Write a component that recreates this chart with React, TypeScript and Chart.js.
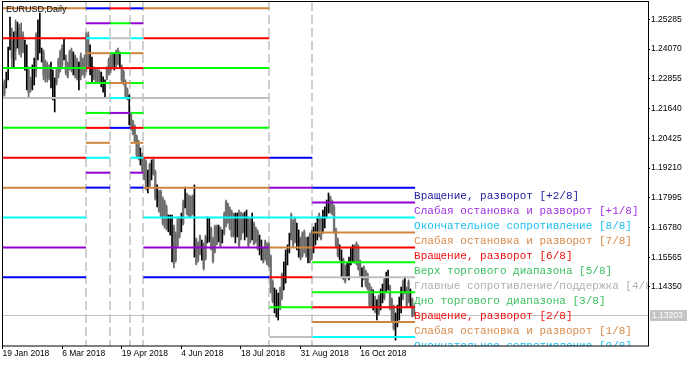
import React, { useEffect, useRef } from 'react';
import { Chart, registerables } from 'chart.js';

Chart.register(...registerables);

// ---- Daily EURUSD bars (index 0 = 19 Jan 2018) ----
const opens = [
  1.2250, 1.2270, 1.2255, 1.2295, 1.2410, 1.2440, 1.2370, 1.2480, 1.2420, 1.2495,
  1.2470, 1.2460, 1.2335, 1.2260, 1.2320, 1.2280, 1.2250, 1.2280, 1.2460, 1.2380,
  1.2400, 1.2360, 1.2395, 1.2350, 1.2340, 1.2330, 1.2260, 1.2215, 1.2165, 1.2320,
  1.2360, 1.2395, 1.2410, 1.2370, 1.2375, 1.2345, 1.2395, 1.2400, 1.2310, 1.2375,
  1.2360, 1.2250, 1.2380, 1.2360, 1.2370, 1.2460, 1.2465, 1.2310, 1.2285, 1.2325,
  1.2320, 1.2320, 1.2312, 1.2260, 1.2240, 1.2220, 1.2325, 1.2360, 1.2375, 1.2385,
  1.2330, 1.2395, 1.2400, 1.2335, 1.2335, 1.2312, 1.2272, 1.2240, 1.2105, 1.2140,
  1.2110, 1.2090, 1.2050, 1.2025, 1.1940, 1.1975, 1.1955, 1.1945, 1.1825, 1.1935,
  1.1878, 1.1955, 1.1905, 1.1770, 1.1825, 1.1822, 1.1795, 1.1782, 1.1762, 1.1665,
  1.1655, 1.1560, 1.1680, 1.1650, 1.1712, 1.1715, 1.1665, 1.1780, 1.1765, 1.1810,
  1.1802, 1.1800, 1.1805, 1.1570, 1.1628, 1.1612, 1.1640, 1.1550, 1.1608, 1.1640,
  1.1620, 1.1625, 1.1672, 1.1632, 1.1680, 1.1682, 1.1625, 1.1672, 1.1620, 1.1732,
  1.1782, 1.1770, 1.1755, 1.1742, 1.1730, 1.1622, 1.1645, 1.1742, 1.1735, 1.1730,
  1.1632, 1.1645, 1.1715, 1.1710, 1.1632, 1.1693, 1.1672, 1.1660, 1.1572, 1.1552,
  1.1592, 1.1620, 1.1608, 1.1608, 1.1560, 1.1456, 1.1335, 1.1320, 1.1308, 1.1428,
  1.1485, 1.1430, 1.1458, 1.1530, 1.1580, 1.1730, 1.1700, 1.1714, 1.1592, 1.1565,
  1.1632, 1.1652, 1.1660, 1.1632, 1.1540, 1.1648, 1.1660, 1.1580, 1.1612, 1.1632,
  1.1730, 1.1714, 1.1660, 1.1680, 1.1722, 1.1742, 1.1800, 1.1784, 1.1762, 1.1668,
  1.1628, 1.1550, 1.1478, 1.1546, 1.1518, 1.1478, 1.1470, 1.1530, 1.1542, 1.1600,
  1.1612, 1.1600, 1.1538, 1.1440, 1.1515, 1.1498, 1.1486, 1.1444, 1.1428, 1.1347,
  1.1392, 1.1306, 1.1395, 1.1347, 1.1376, 1.1465, 1.1420, 1.1430, 1.1436, 1.1383,
  1.1354, 1.1225, 1.1278, 1.1306, 1.1335, 1.1456, 1.1416, 1.1428, 1.1456, 1.1360,
  1.1383, 1.1340,
];

const highs = [
  1.2260, 1.2281, 1.2313, 1.2415, 1.2538, 1.2493, 1.2477, 1.2526, 1.2517, 1.2509,
  1.2513, 1.2477, 1.2444, 1.2424, 1.2334, 1.2293, 1.2342, 1.2370, 1.2473, 1.2526,
  1.2554, 1.2411, 1.2403, 1.2362, 1.2354, 1.2342, 1.2354, 1.2321, 1.2289, 1.2330,
  1.2370, 1.2403, 1.2424, 1.2452, 1.2383, 1.2354, 1.2403, 1.2411, 1.2395, 1.2383,
  1.2370, 1.2354, 1.2391, 1.2370, 1.2383, 1.2473, 1.2477, 1.2424, 1.2374, 1.2334,
  1.2330, 1.2330, 1.2321, 1.2313, 1.2293, 1.2281, 1.2334, 1.2370, 1.2383, 1.2391,
  1.2391, 1.2403, 1.2411, 1.2395, 1.2342, 1.2321, 1.2281, 1.2248, 1.2219, 1.2146,
  1.2117, 1.2097, 1.2056, 1.2035, 1.2003, 1.1982, 1.1962, 1.1954, 1.1913, 1.1941,
  1.1954, 1.1962, 1.1913, 1.1852, 1.1831, 1.1831, 1.1803, 1.1790, 1.1770, 1.1729,
  1.1729, 1.1729, 1.1688, 1.1660, 1.1721, 1.1721, 1.1737, 1.1790, 1.1843, 1.1819,
  1.1811, 1.1807, 1.1811, 1.1852, 1.1635, 1.1619, 1.1647, 1.1627, 1.1615, 1.1647,
  1.1721, 1.1717, 1.1680, 1.1639, 1.1688, 1.1688, 1.1688, 1.1680, 1.1668, 1.1741,
  1.1790, 1.1778, 1.1762, 1.1749, 1.1737, 1.1737, 1.1737, 1.1749, 1.1741, 1.1737,
  1.1741, 1.1749, 1.1721, 1.1717, 1.1737, 1.1700, 1.1680, 1.1668, 1.1647, 1.1627,
  1.1598, 1.1627, 1.1615, 1.1615, 1.1566, 1.1464, 1.1431, 1.1423, 1.1410, 1.1435,
  1.1492, 1.1537, 1.1586, 1.1607, 1.1655, 1.1737, 1.1709, 1.1721, 1.1696, 1.1668,
  1.1639, 1.1660, 1.1668, 1.1639, 1.1639, 1.1655, 1.1668, 1.1680, 1.1696, 1.1721,
  1.1737, 1.1721, 1.1749, 1.1762, 1.1790, 1.1819, 1.1807, 1.1790, 1.1770, 1.1676,
  1.1635, 1.1607, 1.1586, 1.1553, 1.1525, 1.1533, 1.1557, 1.1594, 1.1607, 1.1607,
  1.1619, 1.1607, 1.1545, 1.1513, 1.1521, 1.1504, 1.1492, 1.1451, 1.1435, 1.1423,
  1.1398, 1.1382, 1.1402, 1.1427, 1.1447, 1.1472, 1.1496, 1.1504, 1.1443, 1.1390,
  1.1361, 1.1329, 1.1361, 1.1394, 1.1435, 1.1464, 1.1476, 1.1435, 1.1464, 1.1427,
  1.1390, 1.1361,
];

const lows = [
  1.2211, 1.2215, 1.2248, 1.2281, 1.2403, 1.2334, 1.2330, 1.2362, 1.2411, 1.2383,
  1.2374, 1.2391, 1.2321, 1.2240, 1.2207, 1.2231, 1.2240, 1.2260, 1.2293, 1.2362,
  1.2391, 1.2354, 1.2281, 1.2272, 1.2272, 1.2281, 1.2248, 1.2199, 1.2150, 1.2260,
  1.2289, 1.2313, 1.2330, 1.2362, 1.2301, 1.2289, 1.2321, 1.2313, 1.2301, 1.2289,
  1.2281, 1.2240, 1.2281, 1.2301, 1.2289, 1.2313, 1.2334, 1.2301, 1.2272, 1.2281,
  1.2272, 1.2268, 1.2268, 1.2252, 1.2231, 1.2211, 1.2281, 1.2301, 1.2309, 1.2334,
  1.2321, 1.2334, 1.2342, 1.2330, 1.2272, 1.2260, 1.2207, 1.2199, 1.2097, 1.2076,
  1.2056, 1.2023, 1.1966, 1.1954, 1.1933, 1.1901, 1.1872, 1.1831, 1.1819, 1.1843,
  1.1872, 1.1892, 1.1790, 1.1762, 1.1741, 1.1717, 1.1688, 1.1676, 1.1668, 1.1660,
  1.1647, 1.1537, 1.1513, 1.1537, 1.1598, 1.1635, 1.1660, 1.1688, 1.1758, 1.1729,
  1.1717, 1.1721, 1.1729, 1.1557, 1.1525, 1.1537, 1.1566, 1.1545, 1.1504, 1.1545,
  1.1615, 1.1619, 1.1586, 1.1533, 1.1574, 1.1607, 1.1619, 1.1598, 1.1615, 1.1647,
  1.1680, 1.1696, 1.1668, 1.1639, 1.1639, 1.1615, 1.1639, 1.1598, 1.1627, 1.1655,
  1.1627, 1.1639, 1.1598, 1.1615, 1.1627, 1.1607, 1.1615, 1.1586, 1.1566, 1.1545,
  1.1533, 1.1545, 1.1525, 1.1517, 1.1410, 1.1370, 1.1329, 1.1312, 1.1300, 1.1341,
  1.1382, 1.1423, 1.1451, 1.1525, 1.1574, 1.1627, 1.1598, 1.1615, 1.1586, 1.1557,
  1.1545, 1.1557, 1.1574, 1.1557, 1.1533, 1.1533, 1.1545, 1.1574, 1.1607, 1.1627,
  1.1639, 1.1627, 1.1655, 1.1676, 1.1717, 1.1737, 1.1737, 1.1729, 1.1655, 1.1598,
  1.1557, 1.1545, 1.1472, 1.1464, 1.1451, 1.1472, 1.1464, 1.1525, 1.1537, 1.1533,
  1.1525, 1.1504, 1.1476, 1.1435, 1.1464, 1.1435, 1.1423, 1.1353, 1.1353, 1.1341,
  1.1329, 1.1300, 1.1321, 1.1341, 1.1370, 1.1382, 1.1414, 1.1423, 1.1341, 1.1292,
  1.1259, 1.1218, 1.1272, 1.1300, 1.1329, 1.1382, 1.1410, 1.1353, 1.1370, 1.1353,
  1.1312, 1.1316,
];

const closes = [
  1.2222, 1.2225, 1.2300, 1.2405, 1.2440, 1.2370, 1.2420, 1.2400, 1.2500, 1.2395,
  1.2400, 1.2405, 1.2420, 1.2400, 1.2230, 1.2245, 1.2330, 1.2360, 1.2320, 1.2500,
  1.2530, 1.2400, 1.2300, 1.2285, 1.2290, 1.2290, 1.2340, 1.2310, 1.2275, 1.2270,
  1.2300, 1.2325, 1.2340, 1.2440, 1.2310, 1.2295, 1.2330, 1.2325, 1.2385, 1.2300,
  1.2290, 1.2345, 1.2295, 1.2310, 1.2300, 1.2330, 1.2345, 1.2415, 1.2365, 1.2290,
  1.2280, 1.2275, 1.2275, 1.2305, 1.2285, 1.2275, 1.2290, 1.2310, 1.2320, 1.2340,
  1.2385, 1.2345, 1.2350, 1.2390, 1.2280, 1.2268, 1.2215, 1.2205, 1.2210, 1.2082,
  1.2062, 1.2030, 1.1975, 1.1962, 1.1995, 1.1910, 1.1880, 1.1840, 1.1905, 1.1850,
  1.1945, 1.1898, 1.1798, 1.1845, 1.1748, 1.1725, 1.1696, 1.1684, 1.1675, 1.1722,
  1.1720, 1.1700, 1.1530, 1.1545, 1.1605, 1.1640, 1.1730, 1.1695, 1.1835, 1.1735,
  1.1725, 1.1728, 1.1735, 1.1840, 1.1532, 1.1545, 1.1572, 1.1620, 1.1512, 1.1552,
  1.1712, 1.1710, 1.1592, 1.1540, 1.1580, 1.1612, 1.1682, 1.1605, 1.1662, 1.1655,
  1.1688, 1.1702, 1.1675, 1.1645, 1.1645, 1.1730, 1.1730, 1.1605, 1.1632, 1.1660,
  1.1735, 1.1742, 1.1605, 1.1620, 1.1730, 1.1612, 1.1620, 1.1592, 1.1640, 1.1620,
  1.1540, 1.1552, 1.1532, 1.1525, 1.1418, 1.1378, 1.1422, 1.1415, 1.1400, 1.1348,
  1.1390, 1.1530, 1.1578, 1.1600, 1.1648, 1.1632, 1.1605, 1.1620, 1.1690, 1.1660,
  1.1552, 1.1564, 1.1580, 1.1564, 1.1632, 1.1540, 1.1552, 1.1672, 1.1690, 1.1715,
  1.1645, 1.1632, 1.1742, 1.1755, 1.1784, 1.1812, 1.1742, 1.1735, 1.1662, 1.1605,
  1.1564, 1.1600, 1.1580, 1.1470, 1.1458, 1.1526, 1.1550, 1.1588, 1.1600, 1.1540,
  1.1532, 1.1512, 1.1482, 1.1506, 1.1470, 1.1442, 1.1430, 1.1360, 1.1360, 1.1416,
  1.1335, 1.1375, 1.1328, 1.1420, 1.1440, 1.1390, 1.1490, 1.1496, 1.1348, 1.1300,
  1.1266, 1.1320, 1.1354, 1.1387, 1.1428, 1.1390, 1.1470, 1.1360, 1.1378, 1.1420,
  1.1318, 1.13203,
];

// ---- Axes ----
const dateLabels = ['19 Jan 2018', '6 Mar 2018', '19 Apr 2018', '4 Jun 2018', '18 Jul 2018', '31 Aug 2018', '16 Oct 2018'];
const dateBars = [0, 32, 64, 96, 128, 160, 192];
const priceTicks = [1.25285, 1.2407, 1.22855, 1.2164, 1.20425, 1.1921, 1.17995, 1.1678, 1.15565, 1.1435];
const priceMin = 1.11939;
const priceMax = 1.25991;
const barMin = -0.3;
const barMax = 346.55;
const chartTitle = 'EURUSD,Daily';

// ---- Murrey Math frames ----
const frameStart = [-0.3, 44.8, 57.7, 68.6, 75.6, 143.2, 166.3];
const frameEnd = [44.8, 57.7, 68.6, 75.6, 143.2, 166.3, 221.5];
const frameZero = [1.171875, 1.1962890625, 1.220703125, 1.1962890625, 1.171875, 1.07421875, 1.123046875];
const frameStep = [0.01220703125, 0.006103515625, 0.006103515625, 0.006103515625, 0.01220703125, 0.01220703125, 0.006103515625];
const levelEighths = [-2, -1, 0, 1, 2, 3, 4, 5, 6, 7, 8, 9, 10];
const levelColors = ['#0000ff', '#9400d3', '#00ffff', '#cd853f', '#ff0000', '#00ff00', '#c0c0c0', '#00ff00', '#ff0000', '#cd853f', '#00ffff', '#9400d3', '#0000ff'];
const levelTextColors = ['#2020a0', '#a030e0', '#1ec0f0', '#d98a4a', '#f01010', '#3cc060', '#b0b0b0', '#3cc060', '#f01010', '#d98a4a', '#1ec0f0', '#a030e0', '#2020a0'];
const levelNames = [
  'Вращение, разворот [-2/8]',
  'Слабая остановка и разворот [-1/8]',
  'Окончательное сопротивление [0/8]',
  'Слабая остановка и разворот [1/8]',
  'Вращение, разворот [2/8]',
  'Дно торгового диапазона [3/8]',
  'Главные сопротивление/поддержка [4/8]',
  'Верх торгового диапазона [5/8]',
  'Вращение, разворот [6/8]',
  'Слабая остановка и разворот [7/8]',
  'Окончательное сопротивление [8/8]',
  'Слабая остановка и разворот [+1/8]',
  'Вращение, разворот [+2/8]',
];

const SANS = '"Liberation Sans", Arial, sans-serif';
const MONO = '"Liberation Mono", "Courier New", monospace';

const mmPlugin = {
  id: 'mmPlugin',
  beforeDatasetsDraw(chart: any) {
    const { ctx, chartArea: a, scales } = chart;
    const x = scales.x;
    const y = scales.y;
    ctx.save();
    ctx.beginPath();
    ctx.rect(a.left, a.top, a.right - a.left, a.bottom - a.top);
    ctx.clip();
    ctx.strokeStyle = '#d0d0d0';
    ctx.lineWidth = 2;
    ctx.setLineDash([9, 4]);
    frameStart.slice(1).forEach((b) => {
      const px = Math.round(x.getPixelForValue(b));
      ctx.beginPath();
      ctx.moveTo(px, a.top);
      ctx.lineTo(px, a.bottom);
      ctx.stroke();
    });
    ctx.setLineDash([]);
    const py = Math.round(y.getPixelForValue(closes[closes.length - 1])) + 0.5;
    ctx.strokeStyle = '#c0c0c0';
    ctx.lineWidth = 1;
    ctx.beginPath();
    ctx.moveTo(a.left, py);
    ctx.lineTo(a.right, py);
    ctx.stroke();
    ctx.restore();
  },
  afterDatasetsDraw(chart: any) {
    const { ctx, chartArea: a, scales } = chart;
    const x = scales.x;
    const y = scales.y;
    const f = frameStart.length - 1;
    ctx.save();
    ctx.beginPath();
    ctx.rect(a.left, a.top, a.right - a.left, a.bottom - a.top);
    ctx.clip();
    ctx.font = '11px ' + MONO;
    ctx.textAlign = 'left';
    ctx.textBaseline = 'alphabetic';
    const lx = x.getPixelForValue(frameEnd[f]) - 1;
    levelEighths.forEach((k, j) => {
      const v = frameZero[f] + k * frameStep[f];
      const py = y.getPixelForValue(v);
      ctx.fillStyle = levelTextColors[j];
      ctx.fillText(levelNames[j], lx, py + 11.5);
    });
    ctx.fillStyle = '#000';
    ctx.font = '9px ' + SANS;
    ctx.fillText(chartTitle, 6, 12);
    ctx.restore();

    ctx.save();
    ctx.strokeStyle = '#000';
    ctx.lineWidth = 1;
    ctx.strokeRect(a.left + 0.5, a.top - 0.5, a.right - a.left, a.bottom - a.top + 0.5);
    const last = closes[closes.length - 1];
    const py = Math.round(y.getPixelForValue(last));
    ctx.fillStyle = '#c4c4c4';
    ctx.fillRect(a.right + 2, py - 5, 37, 11);
    ctx.fillStyle = '#ffffff';
    ctx.font = '8.5px ' + SANS;
    ctx.textBaseline = 'middle';
    ctx.fillText(last.toFixed(5), a.right + 4, py + 0.5);
    ctx.restore();
  },
};

export default function App() {
  const ref = useRef<HTMLCanvasElement>(null);

  useEffect(() => {
    const prevMargin = document.body.style.margin;
    document.body.style.margin = '0';
    const idx = opens.map((_, i) => i);
    const isUp = (i: number) => closes[i] >= opens[i];
    const datasets: any[] = [];

    frameStart.forEach((s, f) => {
      levelEighths.forEach((k, j) => {
        const v = frameZero[f] + k * frameStep[f];
        datasets.push({
          type: 'line',
          data: [{ x: s, y: v }, { x: frameEnd[f], y: v }],
          borderColor: levelColors[j],
          borderWidth: 2,
          pointRadius: 0,
          tension: 0,
          clip: 0,
          order: 1,
        });
      });
    });

    const barCommon = { type: 'bar', grouped: false, barPercentage: 1, categoryPercentage: 1, borderWidth: 0, clip: 0 };
    datasets.push({
      ...barCommon,
      data: idx.filter((i) => !isUp(i)).map((i) => ({ x: i, y: [closes[i], opens[i]] })),
      backgroundColor: '#9a9a9a',
      maxBarThickness: 2,
      order: 30,
    });
    datasets.push({
      ...barCommon,
      data: idx.filter((i) => !isUp(i)).map((i) => ({ x: i, y: [lows[i], highs[i]] })),
      backgroundColor: '#6a6a6a',
      maxBarThickness: 1,
      order: 29,
    });
    datasets.push({
      ...barCommon,
      data: idx.filter((i) => isUp(i)).map((i) => ({ x: i, y: [lows[i], highs[i]] })),
      backgroundColor: '#000000',
      maxBarThickness: 1,
      order: 28,
    });

    const tickFont = { family: SANS, size: 8.5 };
    const chart = new Chart(ref.current as HTMLCanvasElement, {
      type: 'bar',
      data: { datasets },
      options: {
        responsive: false,
        animation: false,
        devicePixelRatio: 1,
        events: [],
        layout: { padding: { left: 2, top: 2, right: 0, bottom: 0 } },
        plugins: { legend: { display: false }, tooltip: { enabled: false } },
        scales: {
          x: {
            type: 'linear',
            position: 'bottom',
            min: barMin,
            max: barMax,
            offset: false,
            grid: { drawOnChartArea: false, drawTicks: true, tickLength: 3, color: '#000', offset: false },
            border: { display: false },
            ticks: {
              autoSkip: false,
              maxRotation: 0,
              minRotation: 0,
              align: 'start',
              padding: 0,
              color: '#000',
              font: tickFont,
              callback: (v: any) => {
                const k = dateBars.indexOf(Number(v));
                return k >= 0 ? dateLabels[k] : '';
              },
            },
            afterBuildTicks: (s: any) => {
              s.ticks = dateBars.map((v) => ({ value: v }));
            },
            afterFit: (s: any) => {
              s.height = 20;
              s.paddingLeft = 0;
              s.paddingRight = 0;
            },
          },
          y: {
            type: 'linear',
            position: 'right',
            min: priceMin,
            max: priceMax,
            grid: { drawOnChartArea: false, drawTicks: true, tickLength: 2, color: '#000' },
            border: { display: false },
            ticks: {
              padding: 1,
              color: '#000',
              font: tickFont,
              callback: (v: any) => Number(v).toFixed(5),
            },
            afterBuildTicks: (s: any) => {
              s.ticks = priceTicks.map((v) => ({ value: v }));
            },
            afterFit: (s: any) => {
              s.width = 48;
              s.paddingTop = 0;
              s.paddingBottom = 0;
            },
          },
        },
      } as any,
      plugins: [mmPlugin],
    } as any);

    return () => {
      chart.destroy();
      document.body.style.margin = prevMargin;
    };
  }, []);

  return (
    <div style={{ width: 696, height: 366, background: '#fff' }}>
      <canvas ref={ref} width={696} height={366} style={{ display: 'block' }} />
    </div>
  );
}
